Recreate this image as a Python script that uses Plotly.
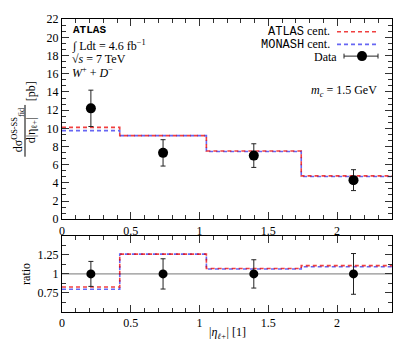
import plotly.graph_objects as go

# ---- data ----
bin_edges = [0.0, 0.42, 1.05, 1.74, 2.5]
bin_centers = [0.21, 0.735, 1.395, 2.12]
atlas_cent = [10.1, 9.2, 7.5, 4.77]
monash_cent = [9.75, 9.2, 7.45, 4.7]
data_vals = [12.2, 7.3, 7.0, 4.3]
data_errs = [2.0, 1.45, 1.3, 1.15]

x_ticks = [0, 0.5, 1, 1.5, 2]
y_ticks = [0, 2, 4, 6, 8, 10, 12, 14, 16, 18, 20, 22]
ratio_ticks = [0.75, 1, 1.25]
ratio_tick_labels = ["0.75", "1", "1.25"]

# page body has an 8px default margin; compensate
OFF = 8
W, H = 411 - OFF, 342 - OFF
L, R, T, B = 62 - OFF, 19, 12 - OFF, 30
PW, PH = W - L - R, H - T - B


def px(xp):
    return (xp - OFF - L) / PW


def py(yp):
    return (H - B - (yp - OFF)) / PH


SERIF = "Liberation Serif"
MONO = "Liberation Mono"
RED = "rgba(235,0,0,0.75)"
BLUE = "rgba(0,0,235,0.6)"

fig = go.Figure()


def step(vals):
    return list(vals) + [vals[-1]]


atlas_ratio = [a / d for a, d in zip(atlas_cent, data_vals)]
monash_ratio = [m / d for m, d in zip(monash_cent, data_vals)]
data_ratio = [1.0 for _ in data_vals]
data_ratio_err = [e / d for e, d in zip(data_errs, data_vals)]

# main panel
fig.add_trace(go.Scatter(x=bin_edges, y=step(monash_cent), mode="lines", line_shape="hv",
                         line=dict(color=BLUE, width=1.6, dash="4px,3px"), xaxis="x", yaxis="y"))
fig.add_trace(go.Scatter(x=bin_edges, y=step(atlas_cent), mode="lines", line_shape="hv",
                         line=dict(color=RED, width=1.6, dash="4px,3px"), xaxis="x", yaxis="y"))
fig.add_trace(go.Scatter(x=bin_centers, y=data_vals, mode="markers",
                         marker=dict(color="black", size=10),
                         error_y=dict(type="data", array=data_errs, color="#222", thickness=1, width=2.5),
                         xaxis="x", yaxis="y"))

# ratio panel
fig.add_trace(go.Scatter(x=[0, 2.4], y=[1, 1], mode="lines", line=dict(color="#777", width=1),
                         xaxis="x2", yaxis="y2"))
fig.add_trace(go.Scatter(x=bin_edges, y=step(monash_ratio), mode="lines", line_shape="hv",
                         line=dict(color=BLUE, width=1.6, dash="4px,3px"), xaxis="x2", yaxis="y2"))
fig.add_trace(go.Scatter(x=bin_edges, y=step(atlas_ratio), mode="lines", line_shape="hv",
                         line=dict(color=RED, width=1.6, dash="4px,3px"), xaxis="x2", yaxis="y2"))
fig.add_trace(go.Scatter(x=bin_centers, y=data_ratio, mode="markers",
                         marker=dict(color="black", size=9),
                         error_y=dict(type="data", array=data_ratio_err, color="#222", thickness=1, width=2.5),
                         xaxis="x2", yaxis="y2"))

axis_common = dict(showline=True, linecolor="black", linewidth=1, mirror="allticks",
                   ticks="inside", ticklen=7, tickcolor="#333", tickwidth=1,
                   showgrid=False, zeroline=False, ticklabeloverflow="allow",
                   tickfont=dict(family=SERIF, size=12, color="black"))

main_bottom = py(217)
ratio_top = py(234)

fig.update_layout(
    width=W, height=H,
    margin=dict(l=L, r=R, t=T, b=B),
    paper_bgcolor="white", plot_bgcolor="white",
    showlegend=False,
    xaxis=dict(domain=[0, 1], range=[0, 2.4], anchor="y", tickvals=x_ticks,
               minor=dict(dtick=0.1, tick0=0, ticks="inside", ticklen=4, tickcolor="#333"),
               **axis_common),
    yaxis=dict(domain=[main_bottom, 1], range=[0, 22.03], anchor="x", tickvals=y_ticks,
               minor=dict(dtick=2 / 3, tick0=0, ticks="inside", ticklen=4, tickcolor="#333"),
               **axis_common),
    xaxis2=dict(domain=[0, 1], range=[0, 2.4], anchor="y2", tickvals=x_ticks,
                minor=dict(dtick=0.1, tick0=0, ticks="inside", ticklen=4, tickcolor="#333"),
                **axis_common),
    yaxis2=dict(domain=[0, ratio_top], range=[0.5, 1.5], anchor="x2",
                tickvals=ratio_ticks, ticktext=ratio_tick_labels,
                minor=dict(dtick=0.125, tick0=0.5, ticks="inside", ticklen=4, tickcolor="#333"),
                **axis_common),
)

ann = []


def text(xp, yp, t, size=12, family=SERIF, xanchor="left", yanchor="middle", textangle=0):
    ann.append(dict(x=px(xp), y=py(yp), xref="paper", yref="paper", text=t, showarrow=False,
                    xanchor=xanchor, yanchor=yanchor, textangle=textangle,
                    font=dict(family=family, size=size, color="black")))


# top-left labels
text(71, 23, "<b>ATLAS</b>", family=MONO, size=11)
text(70, 39, "∫ Ldt = 4.6 fb<sup>−1</sup>")
text(70, 53, "√<i>s</i> = 7 TeV")
text(70, 67, "<i>W</i><sup>+</sup> + <i>D</i><sup>−</sup>")

# legend texts
text(332, 25, f"<span style='font-family:{MONO}'>ATLAS</span> cent.", xanchor="right")
text(332, 38, f"<span style='font-family:{MONO}'>MONASH</span> cent.", xanchor="right")
text(339, 51, "Data", xanchor="right")
text(379, 86, "<i>m<sub>c</sub></i> = 1.5 GeV", xanchor="right")

# axis titles
text(18, 126, "dσ<sup>OS-SS</sup><sub>fid</sub>", textangle=-90, xanchor="center", yanchor="middle")
text(32, 126, "d|η<sub>ℓ+</sub>|", textangle=-90, xanchor="center", yanchor="middle")
text(31, 86, "[pb]", textangle=-90, xanchor="center", yanchor="middle")
text(26, 273, "ratio", textangle=-90, xanchor="center", yanchor="middle")
text(227, 334, "|<i>η<sub>ℓ+</sub></i>| [1]", xanchor="center", yanchor="middle")

fig.update_layout(annotations=ann)

shapes = []
# fraction bar
shapes.append(dict(type="line", xref="paper", yref="paper", x0=px(25), x1=px(25),
                   y0=py(100), y1=py(153), line=dict(color="black", width=1)))
# legend samples
shapes.append(dict(type="line", xref="paper", yref="paper", x0=px(337), x1=px(376),
                   y0=py(25), y1=py(25), line=dict(color=RED, width=1.6, dash="4px,3px")))
shapes.append(dict(type="line", xref="paper", yref="paper", x0=px(337), x1=px(376),
                   y0=py(38), y1=py(38), line=dict(color=BLUE, width=1.6, dash="4px,3px")))
shapes.append(dict(type="line", xref="paper", yref="paper", x0=px(344), x1=px(378),
                   y0=py(50), y1=py(50), line=dict(color="#222", width=1)))
for xc in (344, 378):
    shapes.append(dict(type="line", xref="paper", yref="paper", x0=px(xc), x1=px(xc),
                       y0=py(47.5), y1=py(52.5), line=dict(color="#222", width=1)))
shapes.append(dict(type="circle", xref="paper", yref="paper", xsizemode="pixel", ysizemode="pixel",
                   xanchor=px(362), yanchor=py(50), x0=-5, x1=5, y0=-5, y1=5,
                   fillcolor="black", line=dict(color="black", width=0)))
fig.update_layout(shapes=shapes)

fig.write_html("out.html")
